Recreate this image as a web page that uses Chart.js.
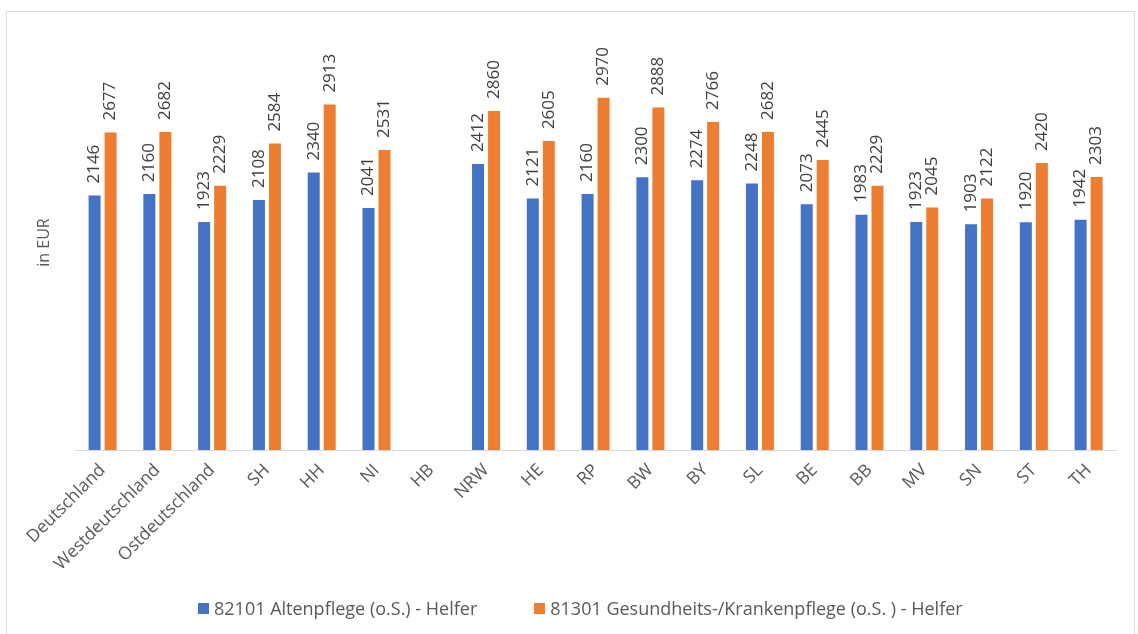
<!DOCTYPE html>
<html>
<head>
<meta charset="utf-8">
<script src="https://cdn.jsdelivr.net/npm/chart.js@4"></script>
<style>
  body { margin: 0; background: #fff; font-family: 'Open Sans', sans-serif; }
  #wrap { position: absolute; left: 0; top: 0; width: 1138px; height: 634px; }
  #frame { position: absolute; left: 6px; top: 11px; width: 1129px; height: 700px; border: 1px solid #dcdcdc; box-sizing: border-box; pointer-events: none; }
  #legend { position: absolute; left: 198px; top: 596px; display: flex; align-items: center; color: #595959; font-size: 18px; white-space: nowrap; }
  #legend .item { display: flex; align-items: center; margin-right: 57px; }
  #legend .box { width: 11px; height: 11px; margin-right: 5px; }
</style>
</head>
<body>
<div id="frame"></div>
<div id="wrap"><canvas id="chart"></canvas></div>
<div id="legend"></div>
<script>
const regions = ['Deutschland', 'Westdeutschland', 'Ostdeutschland', 'SH', 'HH', 'NI', 'HB', 'NRW', 'HE', 'RP', 'BW', 'BY', 'SL', 'BE', 'BB', 'MV', 'SN', 'ST', 'TH']
const altenpflege = [2146, 2160, 1923, 2108, 2340, 2041, null, 2412, 2121, 2160, 2300, 2274, 2248, 2073, 1983, 1923, 1903, 1920, 1942]
const krankenpflege = [2677, 2682, 2229, 2584, 2913, 2531, null, 2860, 2605, 2970, 2888, 2766, 2682, 2445, 2229, 2045, 2122, 2420, 2303]
const seriesNames = ['82101 Altenpflege (o.S.) - Helfer', '81301 Gesundheits-/Krankenpflege (o.S. ) - Helfer']
const seriesColors = ['#4472C4', '#ED7D31']

const FONT = "'Open Sans', sans-serif"

// values above bars, rotated like in Excel
const barLabels = {
    id: 'barLabels',
    afterDatasetsDraw(chart) {
        const ctx = chart.ctx
        ctx.save()
        ctx.font = '17px ' + FONT
        ctx.fillStyle = '#404040'
        ctx.textAlign = 'left'
        ctx.textBaseline = 'middle'
        chart.data.datasets.forEach((ds, i) => {
            chart.getDatasetMeta(i).data.forEach((bar, j) => {
                const v = ds.data[j]
                if (v == null) return
                ctx.save()
                ctx.translate(bar.x, bar.y - 12)
                ctx.rotate(-Math.PI / 2)
                ctx.fillText(String(v), 0, 0)
                ctx.restore()
            })
        })
        ctx.restore()
    }
}

// legend as html, wide gap between the two entries
const htmlLegend = {
    id: 'htmlLegend',
    afterUpdate(chart) {
        const box = document.getElementById('legend')
        box.innerHTML = ''
        const items = chart.options.plugins.legend.labels.generateLabels(chart)
        items.forEach(item => {
            const el = document.createElement('div')
            el.className = 'item'
            const sw = document.createElement('span')
            sw.className = 'box'
            sw.style.background = item.fillStyle
            const txt = document.createElement('span')
            txt.textContent = item.text
            el.appendChild(sw)
            el.appendChild(txt)
            box.appendChild(el)
        })
    }
}

const ctx = document.getElementById('chart').getContext('2d')

const chart = new Chart(ctx, {
    type: 'bar',
    data: {
        labels: regions,
        datasets: [{
            label: seriesNames[0],
            data: altenpflege,
            backgroundColor: seriesColors[0]
        }, {
            label: seriesNames[1],
            data: krankenpflege,
            backgroundColor: seriesColors[1]
        }]
    },
    options: {
        responsive: true,
        maintainAspectRatio: false,
        animation: false,
        categoryPercentage: 0.584,
        barPercentage: 0.75,
        layout: {
            padding: { left: 20, right: 22, top: 35, bottom: 44 }
        },
        plugins: {
            legend: { display: false },
            tooltip: { enabled: false }
        },
        scales: {
            x: {
                grid: { display: false, drawTicks: false },
                border: { display: true, color: '#d9d9d9' },
                ticks: {
                    minRotation: 45,
                    maxRotation: 45,
                    padding: 10,
                    color: '#595959',
                    font: { family: FONT, size: 17.5 }
                },
                afterFit(axis) { axis.height = 140 }
            },
            y: {
                min: 0,
                max: 3500,
                grid: { display: false, drawTicks: false },
                border: { display: false },
                ticks: { display: false },
                title: {
                    display: true,
                    text: 'in EUR',
                    color: '#595959',
                    font: { family: FONT, size: 16 },
                    padding: { top: 15, bottom: 21 }
                }
            }
        }
    },
    plugins: [barLabels, htmlLegend]
})
</script>
</body>
</html>
